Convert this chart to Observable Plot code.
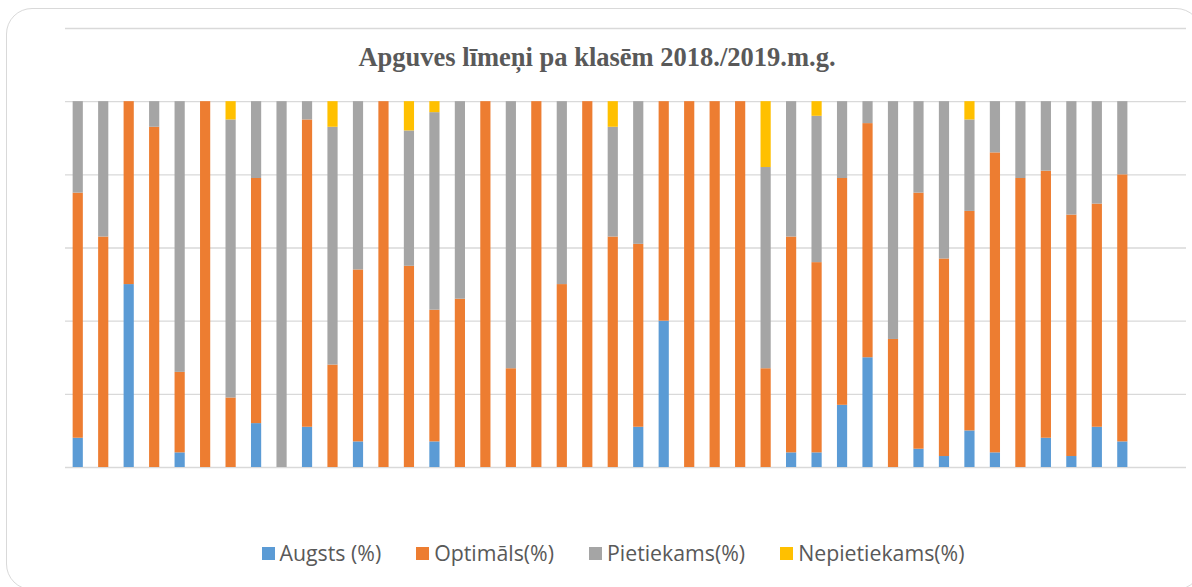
<!DOCTYPE html>
<html>
<head>
<meta charset="utf-8">
<script src="https://cdn.jsdelivr.net/npm/d3@7"></script>
<script src="https://cdn.jsdelivr.net/npm/@observablehq/plot@0.6"></script>
<style>
  body { margin: 0; background: #fff; }
  #wrap { position: relative; width: 1192px; height: 587px; overflow: hidden; background: #fff; }
  #frame { position: absolute; left: 6px; top: 8px; width: 1196px; height: 582px; border: 1.5px solid #d9d9d9; border-radius: 26px; box-sizing: border-box; }
  #title { position: absolute; left: 0; top: 42px; width: 1194px; text-align: center; font-family: "Liberation Serif", serif; font-weight: bold; font-size: 26.5px; line-height: 30px; color: #595959; white-space: nowrap; }
  #chart { position: absolute; left: 0; top: 0; }
  #legend { position: absolute; left: 0; top: 538px; width: 1226px; display: flex; justify-content: center; gap: 35px; font-family: "Open Sans", sans-serif; font-size: 21.3px; line-height: 30px; color: #595959; }
  .item { display: flex; align-items: center; }
  .sw { width: 13px; height: 13px; margin-right: 5px; }
</style>
</head>
<body>
<div id="wrap">
  <div id="frame"></div>
  <div id="title"></div>
  <div id="chart"></div>
  <div id="legend"></div>
</div>
<script>
const titleText = "Apguves līmeņi pa klasēm 2018./2019.m.g.";
const series = ["Augsts (%)", "Optimāls(%)", "Pietiekams(%)", "Nepietiekams(%)"];
const colors = ["#5b9bd5", "#ed7d31", "#a5a5a5", "#ffc000"];
const classes = ["1","2","3","4","5","6","7","8","9","10","11","12","13","14","15","16","17","18","19","20","21","22","23","24","25","26","27","28","29","30","31","32","33","34","35","36","37","38","39","40","41","42"];
const emptySlots = ["43", "44"];
const augsts       = [8,0,50,0,4,0,0,12,0,11,0,7,0,0,7,0,0,0,0,0,0,0,11,40,0,0,0,0,4,4,17,30,0,5,3,10,4,0,8,3,11,7];
const optimals     = [67,63,50,93,22,100,19,67,0,84,28,47,100,55,36,46,100,27,100,50,100,63,50,60,100,100,100,27,59,52,62,64,35,70,54,60,82,79,73,66,61,73];
const pietiekams   = [25,37,0,7,74,0,76,21,100,5,65,46,0,37,54,54,0,73,0,50,0,30,39,0,0,0,0,55,37,40,21,6,65,25,43,25,14,21,19,31,28,20];
const nepietiekams = [0,0,0,0,0,0,5,0,0,0,7,0,0,8,3,0,0,0,0,0,0,7,0,0,0,0,0,18,0,4,0,0,0,0,0,5,0,0,0,0,0,0];
const yTicks = [0, 20, 40, 60, 80, 100, 120];

const values = [augsts, optimals, pietiekams, nepietiekams];
const data = classes.flatMap((c, i) => series.map((s, j) => ({klase: c, series: s, value: values[j][i]})));

document.getElementById("title").textContent = titleText;

const chart = Plot.plot({
  width: 1192,
  height: 480,
  marginLeft: 65,
  marginRight: 6,
  marginTop: 28,
  marginBottom: 13,
  style: {background: "transparent"},
  x: {domain: classes.concat(emptySlots), paddingInner: 0.6, paddingOuter: 0.3, round: false, axis: null},
  y: {domain: [0, 120], axis: null},
  color: {domain: series, range: colors},
  marks: [
    Plot.gridY(yTicks, {stroke: "#d9d9d9", strokeOpacity: 1, strokeWidth: 1.3}),
    Plot.barY(data, {x: "klase", y: "value", fill: "series", order: series})
  ]
});
document.getElementById("chart").appendChild(chart);

const legend = document.getElementById("legend");
series.forEach((s, i) => {
  const item = document.createElement("div");
  item.className = "item";
  const sw = document.createElement("span");
  sw.className = "sw";
  sw.style.background = colors[i];
  const t = document.createElement("span");
  t.textContent = s;
  item.appendChild(sw);
  item.appendChild(t);
  legend.appendChild(item);
});
</script>
</body>
</html>
